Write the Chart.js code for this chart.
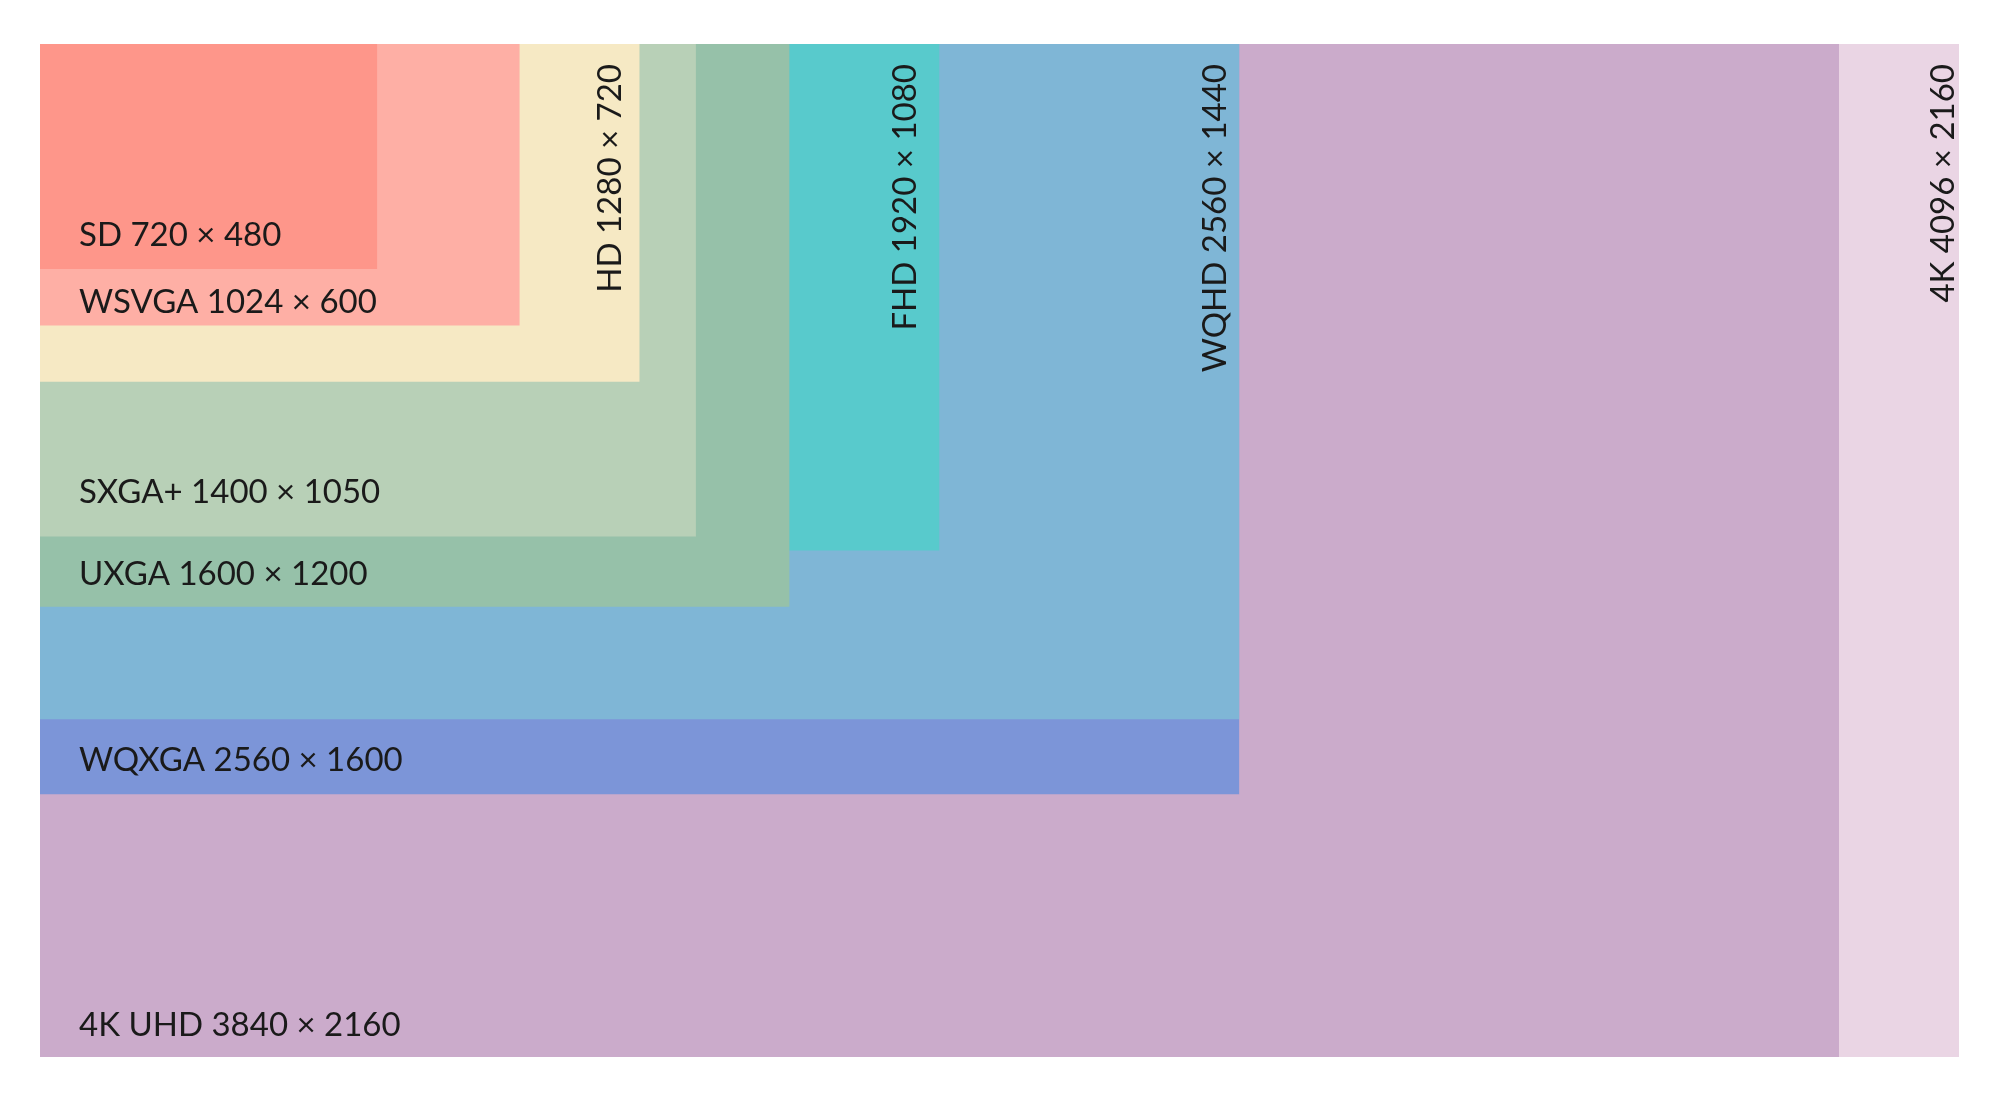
<!DOCTYPE html>
<html>
<head>
<meta charset="utf-8">
<script src="https://cdn.jsdelivr.net/npm/chart.js@4/dist/chart.umd.min.js"></script>
<style>
  html, body { margin: 0; background: #fff; }
  #wrap { width: 2000px; height: 1101px; }
</style>
</head>
<body>
<div id="wrap"><canvas id="grafico"></canvas></div>
<script>
// --- dados: resoluções (da frente para trás) ---
const nomes = ["SD", "WSVGA", "HD", "SXGA+", "UXGA", "FHD", "WQHD", "WQXGA", "4K UHD", "4K"];
const larguras = [720, 1024, 1280, 1400, 1600, 1920, 2560, 2560, 3840, 4096];
const alturas = [480, 600, 720, 1050, 1200, 1080, 1440, 1600, 2160, 2160];
const vertical = [false, false, true, false, false, true, true, false, false, true];

const cores = ["#fe968a", "#feafa5", "#f6e9c4", "#b8d0b7", "#96c1a9",
               "#58cacc", "#7fb6d6", "#7c95d8", "#cbabcb", "#ead5e4"];
// distância do rótulo à borda (inferior ou direita), em px
const recuoRotulo = [34, 23, 29, 44, 32, 34, 24, 34, 32, 16];

const conjuntos = nomes.map((nome, i) => ({
  label: nome,
  data: [{ x: 0, y: alturas[i] }, { x: larguras[i], y: alturas[i] }, { x: larguras[i], y: 0 }],
  borderWidth: 0,
  borderColor: cores[i],
  backgroundColor: cores[i],
  pointRadius: 0,
  fill: "origin",
  tension: 0,
}));

const rotulos = {
  id: "rotulos",
  afterDatasetsDraw(chart) {
    const ctx = chart.ctx;
    const sx = chart.scales.x, sy = chart.scales.y;
    ctx.save();
    ctx.fillStyle = "#1a1a1a";
    ctx.font = "33px Lato";
    ctx.textBaseline = "middle";
    nomes.forEach((nome, i) => {
      const texto = `${nome} ${larguras[i]} × ${alturas[i]}`;
      const direita = sx.getPixelForValue(larguras[i]);
      const baixo = sy.getPixelForValue(alturas[i]);
      const topo = sy.getPixelForValue(0);
      const esq = sx.getPixelForValue(0);
      if (vertical[i]) {
        ctx.save();
        ctx.translate(direita - recuoRotulo[i], topo + 20);
        ctx.rotate(-Math.PI / 2);
        ctx.textAlign = "right";
        ctx.fillText(texto, 0, 0);
        ctx.restore();
      } else {
        ctx.textAlign = "left";
        ctx.fillText(texto, esq + 39, baixo - recuoRotulo[i]);
      }
    });
    ctx.restore();
  },
};

new Chart(document.getElementById("grafico"), {
  type: "line",
  data: { datasets: conjuntos },
  options: {
    responsive: true,
    maintainAspectRatio: false,
    animation: false,
    layout: { padding: { left: 40, top: 44, right: 41, bottom: 44 } },
    plugins: { legend: { display: false }, tooltip: { enabled: false } },
    scales: {
      x: { type: "linear", min: 0, max: 4096, display: false },
      y: { type: "linear", min: 0, max: 2160, reverse: true, display: false },
    },
  },
  plugins: [rotulos],
});
</script>
</body>
</html>
